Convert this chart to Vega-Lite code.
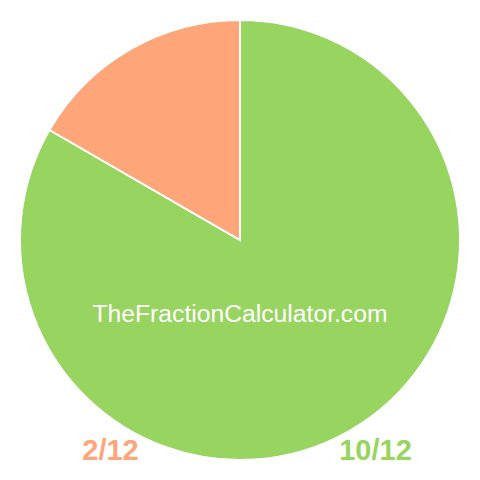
{
  "$schema": "https://vega.github.io/schema/vega-lite/v6.json",
  "width": 480,
  "height": 480,
  "padding": 0,
  "autosize": {"type": "fit", "contains": "padding"},
  "background": "white",
  "view": {"stroke": null},
  "data": {
    "values": [
      {"fraction": "10/12", "value": 10, "index": 1},
      {"fraction": "2/12", "value": 2, "index": 2}
    ]
  },
  "layer": [
    {
      "mark": {"type": "arc", "outerRadius": 220, "stroke": "white", "strokeWidth": 2},
      "encoding": {
        "theta": {"field": "value", "type": "quantitative", "stack": true},
        "order": {"field": "index", "type": "quantitative"},
        "color": {
          "field": "fraction",
          "type": "nominal",
          "scale": {"domain": ["10/12", "2/12"], "range": ["#98d460", "#ffa57a"]},
          "legend": null
        }
      }
    },
    {
      "data": {"values": [{"site": "TheFractionCalculator.com"}]},
      "mark": {
        "type": "text",
        "x": {"expr": "width/2"},
        "y": {"expr": "height/2"},
        "dy": 82,
        "baseline": "alphabetic",
        "align": "center",
        "font": "Liberation Sans",
        "fontSize": 24.7,
        "color": "white"
      },
      "encoding": {"text": {"field": "site", "type": "nominal"}}
    },
    {
      "mark": {
        "type": "text",
        "y": {"expr": "height - 20"},
        "dx": 3,
        "baseline": "alphabetic",
        "align": "center",
        "font": "Liberation Sans",
        "fontSize": 29,
        "fontWeight": "bold"
      },
      "encoding": {
        "x": {
          "field": "fraction",
          "type": "nominal",
          "scale": {"type": "point", "domain": ["2/12", "10/12"], "padding": 0.4057},
          "axis": null
        },
        "text": {"field": "fraction", "type": "nominal"},
        "color": {"field": "fraction", "type": "nominal", "legend": null}
      }
    }
  ]
}
